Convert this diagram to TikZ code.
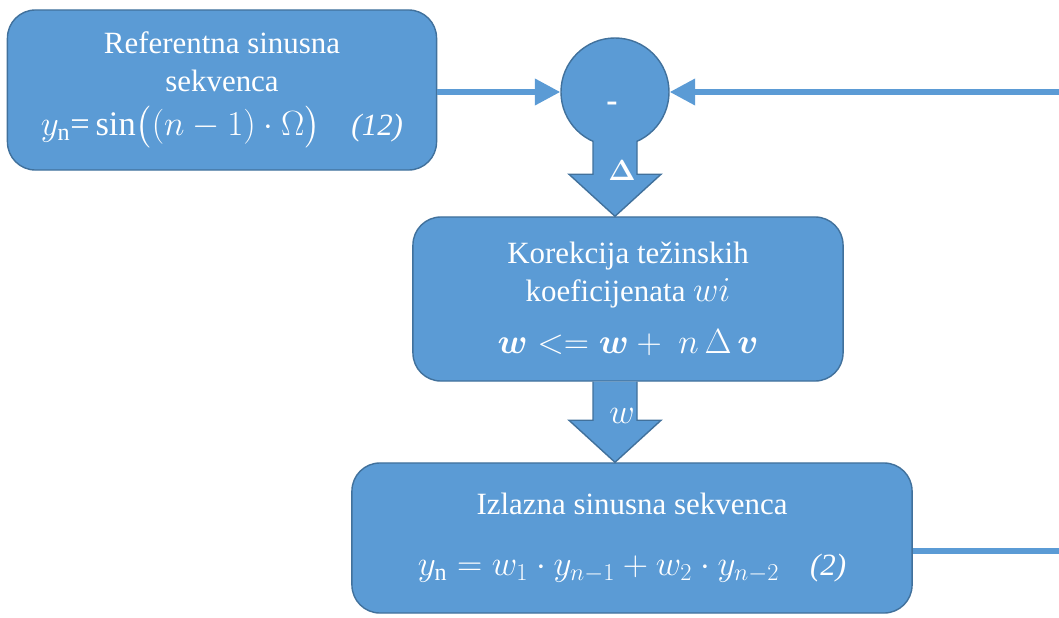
\documentclass[tikz,border=0pt]{standalone}
\usepackage{amsmath}
\usepackage{bm}
\usepackage{fontspec}
\setmainfont{Liberation Serif}
\newfontfamily\serf{Liberation Serif}
\usetikzlibrary{calc,arrows.meta,positioning}
\definecolor{boxblue}{HTML}{5B9BD5}
\definecolor{boxedge}{HTML}{41719C}

\begin{document}
\begin{tikzpicture}[x=0.025cm,y=-0.025cm]

  % Styles
  \tikzstyle{every node}=[text=white]
  \tikzstyle{block}=[draw=boxedge,line width=1pt,fill=boxblue,rounded corners=0.7cm,align=center,font=\serf\fontsize{22}{27}\selectfont]
  \tikzstyle{sum}=[circle,draw=boxedge,line width=1pt,fill=boxblue,minimum size=2.7cm,inner sep=0pt]
  \tikzstyle{fat}=[draw=boxedge,line width=1pt,fill=boxblue]
  \tikzstyle{line}=[boxblue,line width=4pt]
  \tikzstyle{tip}=[-{Triangle[length=18pt,width=18pt]}]

  % bigger size for the formulas
  \newcommand{\fsz}{\fontsize{24.5}{27}\selectfont}

  % \farrow{<id>}{<top>}{<tip>}{<label>}
  \newcommand{\farrow}[4]{%
    \draw[fat] ($(#2)+(22,0)$) -- ($(#3)+(22,-42)$) -- ($(#3)+(46,-42)$) -- (#3)
      -- ($(#3)+(-46,-42)$) -- ($(#3)+(-22,-42)$) -- ($(#2)+(-22,0)$);
    \node[font=\serf\fontsize{20}{22}\selectfont] (#1-label) at ($(#3)+(7,-46)$) {#4};
  }

  \useasboundingbox (0,0) rectangle (1059,618);

  % Draw blocks
  \node[block,minimum width=10.725cm,minimum height=4cm] (ref) at (222,90)
    {Referentna sinusna\\sekvenca\\[4pt]{\fsz$y_{\mathrm{n}}$=\,$\sin\bigl((n-1)\cdot\Omega\bigr)$}\quad\textit{(12)}};
  \node[sum] (sum) at (615,92) {};
  \node[font=\serf\fontsize{24}{27}\selectfont\bfseries] (minus) at ($(sum.center)+(-3,15)$) {-};
  \node[block,minimum width=10.75cm,minimum height=4.1cm] (corr) at (628,299)
    {Korekcija težinskih\\koeficijenata {\fsz$wi$}\\[10pt]{\fsz$\boldsymbol{w} <= \boldsymbol{w} +\ n\,\Delta\,\boldsymbol{v}$}};
  \node[block,minimum width=14cm,minimum height=3.75cm] (out) at (632,538)
    {Izlazna sinusna sekvenca\\[16pt]{\fsz$y_{\mathrm{n}} = w_1\cdot y_{n-1} + w_2\cdot y_{n-2}$}\quad\textit{(2)}};

  % Draw fat arrows
  \coordinate (delta-top) at ($(sum.center)+(0,49)$);
  \coordinate (delta-tip) at (sum.center |- corr.north);
  \farrow{delta}{delta-top}{delta-tip}{$\boldsymbol{\Delta}$}
  \coordinate (w-top) at (sum.center |- corr.south);
  \coordinate (w-tip) at (sum.center |- out.north);
  \farrow{w}{w-top}{w-tip}{\fontsize{25}{27}\selectfont$w$}

  % Draw lines
  \coordinate (fb-top) at (1059,92);
  \coordinate (fb-bot) at (1059,551);
  \draw[line,tip] (ref.east |- sum.west) -- (sum.west);
  \draw[line,tip] (fb-top) -- (sum.east);
  \draw[line] (out.east |- fb-bot) -- (fb-bot);

\end{tikzpicture}
\end{document}
